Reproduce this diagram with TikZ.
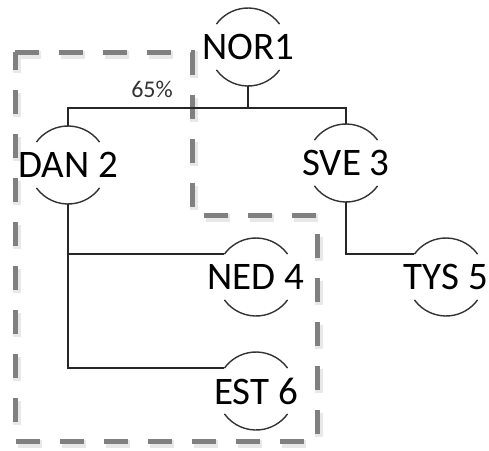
\documentclass[tikz,border=0pt]{standalone}
\usepackage{fontspec}
\setmainfont{Carlito}
\begin{document}
\begin{tikzpicture}[x=1pt,y=-1pt,
  orgnode/.style={circle,minimum size=78pt,inner sep=0pt,outer sep=0pt,
    font=\fontsize{39}{39}\selectfont,text=black},
  arcline/.style={draw=black!80,line width=1.4pt},
  conn/.style={draw=black!85,line width=1.8pt},
  grp/.style={draw=black!50,line width=5pt,dash pattern=on 24pt off 20pt},
  grpshadow/.style={draw=black!50,opacity=0.18,line width=8pt,dash pattern=on 24pt off 20pt},
  pct/.style={font=\fontsize{24}{24}\selectfont,text=black!80}]
\useasboundingbox (0,0) rectangle (489,450);

% group outline (shadow + dashes)
\draw[grpshadow,shift={(2,3)}] (15,52) -- (192,52) -- (192,215) -- (317,215) -- (317,441) -- (15,441) -- cycle;
\draw[grp] (15,52) -- (192,52) -- (192,215) -- (317,215) -- (317,441) -- (15,441) -- cycle;

% nodes
\node[orgnode] (nor) at (248,47) {\makebox[0pt]{NOR1}};
\node[orgnode] (dan) at (68,165) {\makebox[0pt]{DAN 2}};
\node[orgnode] (sve) at (346,163) {\makebox[0pt]{SVE 3}};
\node[orgnode] (ned) at (256,277) {\makebox[0pt]{NED 4}};
\node[orgnode] (tys) at (446,277) {\makebox[0pt]{TYS 5}};
\node[orgnode] (est) at (256,391) {\makebox[0pt]{EST 6}};

% arcs around each node
\foreach \n in {nor,dan,sve,ned,tys,est}{
  \draw[arcline] (\n.36) arc[start angle=36,end angle=144,radius=39pt];
  \draw[arcline] (\n.216) arc[start angle=216,end angle=324,radius=39pt];
}

% connectors
\coordinate (bus) at (248,108);
\draw[conn] (nor.south) -- (bus);
\draw[conn] (dan.north) |- (bus) -| (sve.north);
\draw[conn] (dan.south) |- (ned.144);
\draw[conn] (dan.south) |- (est.144);
\draw[conn] (sve.south) |- (tys.144);

% label
\node[pct] (p65) at (152,89) {65\%};
\end{tikzpicture}
\end{document}
